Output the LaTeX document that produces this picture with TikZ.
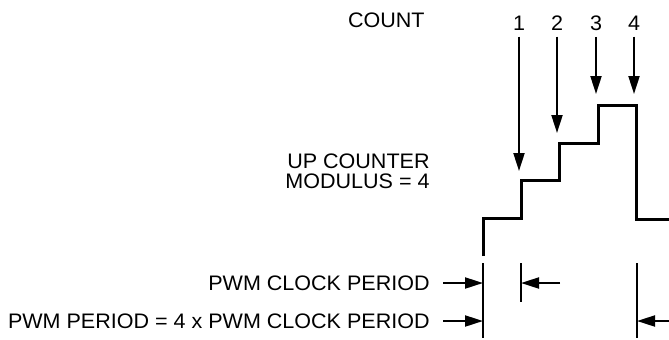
\documentclass[tikz,border=0pt]{standalone}
\usepackage{fontspec}
\setmainfont{Liberation Sans}[FakeStretch=1.025]
\usetikzlibrary{arrows.meta}
\tikzset{
  lbl/.style={inner sep=0pt, font=\fontsize{10.5}{10}\selectfont},
  wave/.style={line width=1.5pt},
  marker/.style={line width=0.6pt},
  cnt/.style={line width=1pt, -{Triangle[length=9pt,width=5.5pt]}},
}
\begin{document}
\begin{tikzpicture}[x=0.5pt,y=-0.5pt]
  \useasboundingbox (0,0) rectangle (669,339);
  % counter output
  \draw[wave] (483,256) -- (483,218) -- (521,218) -- (521,180) -- (559,180)
    -- (559,143) -- (598,143) -- (598,105) -- (636,105) -- (636,219) -- (669,219);
  \node[lbl,anchor=east] (count) at (425,20) {COUNT};
  \node[lbl,anchor=east,align=right] (upcnt) at (430,171) {UP COUNTER\\MODULUS = 4};
  \foreach \i/\x/\y in {1/519/171,2/557/133,3/596/94,4/634/94}{
    \node[lbl] (c\i) at (\x,23) {\i};
    \coordinate (t\i) at (\x,\y);
    \draw[cnt,shorten <=3pt] (c\i) -- (t\i);
  }
  % period markers
  \coordinate (m0) at (483,263);
  \coordinate (m1) at (521,263);
  \coordinate (m4) at (637,263);
  \draw[marker] (m0) -- ++(0,75);
  \draw[marker] (m1) -- ++(0,39);
  \draw[marker] (m4) -- ++(0,75);
  \node[lbl,anchor=east] (clk) at (430,283) {PWM CLOCK PERIOD};
  \node[lbl,anchor=east] (pwm) at (430,321) {PWM PERIOD = 4 x PWM CLOCK PERIOD};
  \coordinate (e1) at (560,283);
  \coordinate (e2) at (669,321);
  \draw[cnt,shorten <=6.5pt] (clk.east) -- (clk.east -| m0);
  \draw[cnt] (e1) -- (e1 -| m1);
  \draw[cnt,shorten <=6.5pt] (pwm.east) -- (pwm.east -| m0);
  \draw[cnt] (e2) -- (e2 -| m4);
\end{tikzpicture}
\end{document}
